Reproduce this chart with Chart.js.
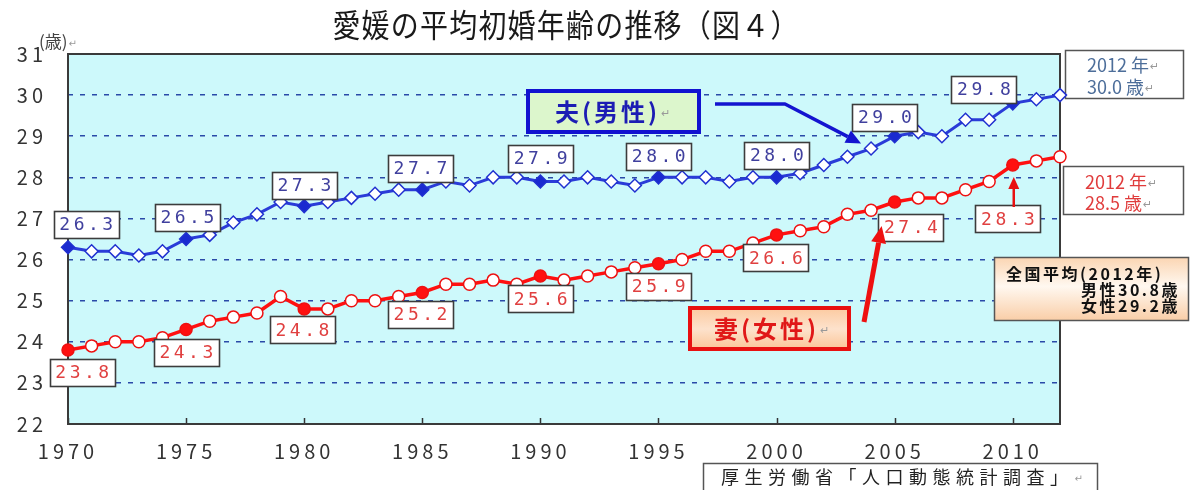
<!DOCTYPE html>
<html><head><meta charset="utf-8">
<script src="https://cdn.jsdelivr.net/npm/chart.js@4.4.0/dist/chart.umd.min.js"></script>
<style>html,body{margin:0;padding:0;background:#fff;}#wrap{width:1193px;height:490px;position:relative;}</style>
</head><body><div id="wrap"><canvas id="c" width="1193" height="490"></canvas></div>
<script>
// ---- data ----
const years = [1970,1971,1972,1973,1974,1975,1976,1977,1978,1979,1980,1981,1982,1983,1984,1985,1986,1987,1988,1989,1990,1991,1992,1993,1994,1995,1996,1997,1998,1999,2000,2001,2002,2003,2004,2005,2006,2007,2008,2009,2010,2011,2012];
const husbandAge = [26.3,26.2,26.2,26.1,26.2,26.5,26.6,26.9,27.1,27.4,27.3,27.4,27.5,27.6,27.7,27.7,27.9,27.8,28.0,28.0,27.9,27.9,28.0,27.9,27.8,28.0,28.0,28.0,27.9,28.0,28.0,28.1,28.3,28.5,28.7,29.0,29.1,29.0,29.4,29.4,29.8,29.9,30.0];
const wifeAge = [23.8,23.9,24.0,24.0,24.1,24.3,24.5,24.6,24.7,25.1,24.8,24.8,25.0,25.0,25.1,25.2,25.4,25.4,25.5,25.4,25.6,25.5,25.6,25.7,25.8,25.9,26.0,26.2,26.2,26.4,26.6,26.7,26.8,27.1,27.2,27.4,27.5,27.5,27.7,27.9,28.3,28.4,28.5];
const xTickValues = [1970,1975,1980,1985,1990,1995,2000,2005,2010];
const yTickValues = [22,23,24,25,26,27,28,29,30,31];
const markedYears = [1970,1975,1980,1985,1990,1995,2000,2005,2010];
const titleText = '愛媛の平均初婚年齢の推移（図４）';
const unitText = '(歳)';
const husbandLegend = '夫(男性)';
const wifeLegend = '妻(女性)';
const husbandLast = ['2012 年', '30.0 歳'];
const wifeLast = ['2012 年', '28.5 歳'];
const nationalText = ['全国平均(2012年)', '男性30.8歳', '女性29.2歳'];
const sourceText = '厚生労働省「人口動態統計調査」';

// ---- layout (label offsets in px, relative to marked points) ----
const husbandLabelOffset = [[18,-23],[1,-22],[0,-21],[-2,-21],[0,-23],[0,-21],[0,-22],[-10,-19],[-29,-14]];
const wifeLabelOffset = [[14,22],[0,23],[-2,21],[-2,22],[0,23],[0,23],[-1,23],[16,25],[-5,54]];

const toPts = arr => years.map((y,i)=>({x:y, y:arr[i]}));
const fillFor = (color) => years.map(y => markedYears.includes(y) ? color : '#ffffff');

function rectBox(ctx,x,y,w,h,fill,stroke,lw){
  ctx.save();
  if(fill){ctx.fillStyle=fill;ctx.fillRect(x,y,w,h);}
  if(stroke){ctx.strokeStyle=stroke;ctx.lineWidth=lw;ctx.strokeRect(x,y,w,h);}
  ctx.restore();
}
function textMark(ctx,str,x,y,font,color,markSize){
  ctx.save();
  ctx.font=font; ctx.fillStyle=color; ctx.textAlign='left'; ctx.textBaseline='middle';
  ctx.fillText(str,x,y);
  const w=ctx.measureText(str).width;
  ctx.letterSpacing='0px';
  ctx.font=(markSize||11)+'px "DejaVu Sans"'; ctx.fillStyle='#999';
  ctx.fillText('\u21B5',x+w+1,y+2);
  ctx.restore();
}
function arrow(ctx,pts,color,lw,hl,hw){
  ctx.save();
  ctx.strokeStyle=color; ctx.fillStyle=color; ctx.lineWidth=lw; ctx.lineJoin='round';
  const n=pts.length, [tx,ty]=pts[n-1], [px,py]=pts[n-2];
  const ang=Math.atan2(ty-py,tx-px);
  const bx=tx-Math.cos(ang)*hl, by=ty-Math.sin(ang)*hl;
  ctx.beginPath(); ctx.moveTo(pts[0][0],pts[0][1]);
  for(let i=1;i<n-1;i++) ctx.lineTo(pts[i][0],pts[i][1]);
  ctx.lineTo(bx,by); ctx.stroke();
  ctx.beginPath(); ctx.moveTo(tx,ty);
  ctx.lineTo(bx+Math.sin(ang)*hw/2, by-Math.cos(ang)*hw/2);
  ctx.lineTo(bx-Math.sin(ang)*hw/2, by+Math.cos(ang)*hw/2);
  ctx.closePath(); ctx.fill();
  ctx.restore();
}
function valueLabel(ctx,cx,cy,txt,color){
  rectBox(ctx,Math.round(cx-32.5)+0.5,Math.round(cy-13.5)+0.5,65,27,'#ffffff','#3c3c3c',1.6);
  ctx.save();
  ctx.font='18px "DejaVu Sans Mono"'; ctx.letterSpacing='3.5px';
  ctx.fillStyle=color; ctx.textAlign='center'; ctx.textBaseline='middle';
  ctx.fillText(txt,cx+2,cy+1);
  ctx.restore();
}

const deco = {
  id:'deco',
  beforeDraw(chart){
    const {ctx, chartArea:a} = chart;
    ctx.save();
    ctx.fillStyle='#ffffff'; ctx.fillRect(0,0,chart.width,chart.height);
    ctx.fillStyle='#cdf9fb'; ctx.fillRect(a.left,a.top,a.right-a.left,a.bottom-a.top);
    ctx.restore();
    ctx.letterSpacing='4px';
  },
  beforeDatasetsDraw(chart){
    const {ctx, chartArea:a, scales:{x}} = chart;
    ctx.letterSpacing='0px';
    ctx.save();
    ctx.strokeStyle='#333'; ctx.lineWidth=1.5;
    xTickValues.forEach(v=>{const px=Math.round(x.getPixelForValue(v))+0.5; ctx.beginPath(); ctx.moveTo(px,a.bottom); ctx.lineTo(px,a.bottom-6); ctx.stroke();});
    ctx.strokeStyle='#3a3a3a'; ctx.lineWidth=2;
    ctx.strokeRect(a.left,a.top,a.right-a.left,a.bottom-a.top);
    ctx.restore();
    // right-side last-value boxes
    rectBox(ctx,1065.5,50.5,118,48,'#ffffff','#555',1.5);
    textMark(ctx,husbandLast[0],1087,65,'18px "Noto Sans CJK JP"','#4d6e9a');
    textMark(ctx,husbandLast[1],1087,87,'18px "Noto Sans CJK JP"','#4d6e9a');
    rectBox(ctx,1063.5,166.5,120,48,'#ffffff','#555',1.5);
    textMark(ctx,wifeLast[0],1085,182,'18px "Noto Sans CJK JP"','#e03c3c');
    textMark(ctx,wifeLast[1],1085,203,'18px "Noto Sans CJK JP"','#e03c3c');
  },
  afterDatasetsDraw(chart){
    const {ctx, scales:{x,y}} = chart;
    const P = (yr,arr)=>[x.getPixelForValue(yr), y.getPixelForValue(arr[years.indexOf(yr)])];
    markedYears.forEach((yr,i)=>{
      const [px,py]=P(yr,husbandAge);
      valueLabel(ctx,px+husbandLabelOffset[i][0],py+husbandLabelOffset[i][1],husbandAge[years.indexOf(yr)].toFixed(1),'#40409e');
      const [qx,qy]=P(yr,wifeAge);
      valueLabel(ctx,qx+wifeLabelOffset[i][0],qy+wifeLabelOffset[i][1],wifeAge[years.indexOf(yr)].toFixed(1),'#e04040');
    });
    // husband legend + arrow
    rectBox(ctx,528,91,171,41,'#dcf6cc','#1212d0',4);
    ctx.save(); ctx.letterSpacing='3px';
    textMark(ctx,husbandLegend,555,112,'bold 24px "Noto Sans CJK JP"','#1c1cb4',11);
    ctx.restore();
    const [hx,hy]=P(2004,husbandAge);
    arrow(ctx,[[715,104],[785,104],[hx-10,hy-5]],'#1414d0',3.5,15,14);
    // wife legend + arrows
    const g=ctx.createLinearGradient(0,308,0,350);
    g.addColorStop(0,'#fccaa0'); g.addColorStop(0.5,'#fde2cc'); g.addColorStop(1,'#fbc496');
    rectBox(ctx,690,308,159,41,g,'#e81010',4);
    ctx.save(); ctx.letterSpacing='3px';
    textMark(ctx,wifeLegend,714,329,'bold 24px "Noto Sans CJK JP"','#e01818',11);
    ctx.restore();
    const [wx,wy]=P(2005,wifeAge);
    arrow(ctx,[[864,322],[wx-13,wy+24]],'#ee1010',5,17,15);
    const [vx,vy]=P(2010,wifeAge);
    arrow(ctx,[[vx+1,vy+42],[vx+1,vy+12]],'#e81010',2.5,12,11);
    // national box
    const g2=ctx.createLinearGradient(0,258,0,321);
    g2.addColorStop(0,'#fbd6b4'); g2.addColorStop(0.45,'#fff8f0'); g2.addColorStop(1,'#f9cda6');
    rectBox(ctx,994.5,257.5,194,63,g2,'#555',1.5);
    ctx.save();
    ctx.font='bold 16px "Noto Sans CJK JP"'; ctx.fillStyle='#111'; ctx.textBaseline='middle';
    ctx.letterSpacing='2.5px';
    ctx.textAlign='left'; ctx.fillText(nationalText[0],1006,274);
    ctx.textAlign='right'; ctx.fillText(nationalText[1],1180,290); ctx.fillText(nationalText[2],1180,306);
    ctx.restore();
  },
  afterDraw(chart){
    const {ctx} = chart;
    ctx.save();
    ctx.letterSpacing='1.2px';
    ctx.font='28px "Noto Sans CJK JP"'; ctx.fillStyle='#1a1a1a'; ctx.textAlign='center'; ctx.textBaseline='middle';
    ctx.translate(566,25); ctx.scale(1,1.12);
    ctx.fillText(titleText,0,0);
    ctx.restore();
    textMark(ctx,unitText,39,42,'17px "Noto Sans CJK JP"','#444',10);
    rectBox(ctx,703.5,463.5,394,30,'#ffffff','#555',1.5);
    ctx.save(); ctx.letterSpacing='5.5px';
    textMark(ctx,sourceText,721,477,'18px "Noto Sans CJK JP"','#222',10);
    ctx.restore();
  }
};

new Chart(document.getElementById('c'),{
  type:'line',
  data:{datasets:[
    {label:husbandLegend,data:toPts(husbandAge),borderColor:'#2a3cd8',borderWidth:3,
     pointStyle:'rectRot',pointRadius:6.5,pointHoverRadius:6.5,pointBackgroundColor:fillFor('#1a2ad0'),
     pointBorderColor:'#2030d0',pointBorderWidth:1.5,tension:0,clip:false},
    {label:wifeLegend,data:toPts(wifeAge),borderColor:'#ff1010',borderWidth:3.5,
     pointStyle:'circle',pointRadius:6,pointHoverRadius:6,pointBackgroundColor:fillFor('#ff1010'),
     pointBorderColor:'#ee1111',pointBorderWidth:1.5,tension:0,clip:false}
  ]},
  options:{
    responsive:false,animation:false,devicePixelRatio:1,
    layout:{padding:{left:0,right:133,top:54,bottom:0}},
    plugins:{legend:{display:false},title:{display:false},tooltip:{enabled:false}},
    scales:{
      x:{type:'linear',min:1970,max:2012,
        afterBuildTicks:s=>{s.ticks=xTickValues.map(v=>({value:v}));},
        afterFit:s=>{s.height=66;},
        grid:{display:false,drawTicks:false},border:{display:false},
        ticks:{padding:15,font:{family:'"Noto Sans CJK JP"',size:20},color:'#333',maxRotation:0,autoSkip:false,callback:v=>String(v)}},
      y:{type:'linear',min:22,max:31,
        afterBuildTicks:s=>{s.ticks=yTickValues.map(v=>({value:v}));},
        afterFit:s=>{s.width=68;},
        grid:{drawTicks:false,lineWidth:1.5,color:c=>(c.tick&&(c.tick.value===22||c.tick.value===31))?'rgba(0,0,0,0)':'#2a4aa8'},
        border:{display:false,dash:[5,7]},
        ticks:{padding:21,font:{family:'"Noto Sans CJK JP"',size:20},color:'#333',callback:v=>String(v)}}
    }
  },
  plugins:[deco]
});
</script></body></html>
